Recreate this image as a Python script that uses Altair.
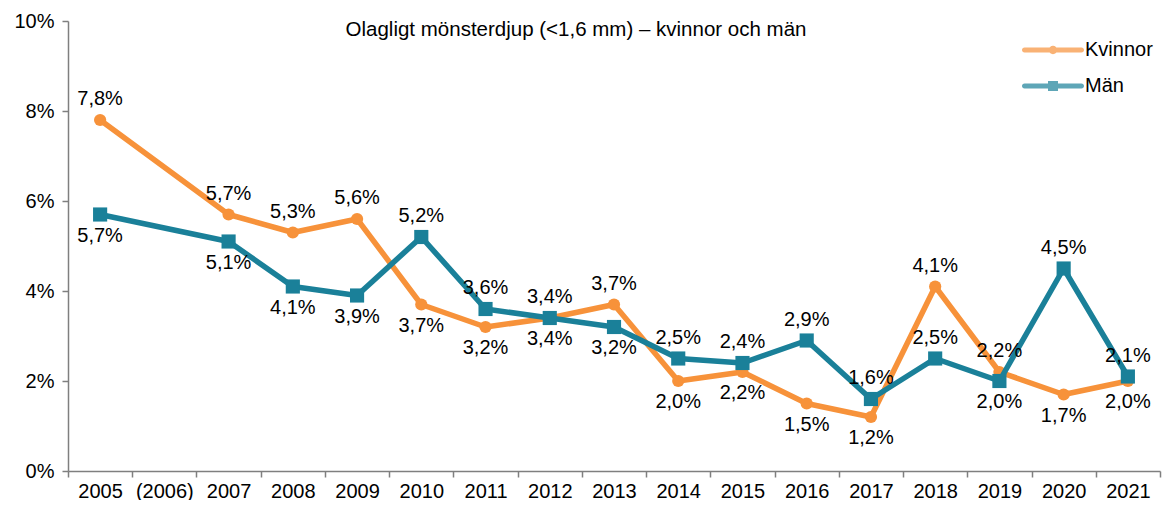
import altair as alt
import pandas as pd

years = ["2005", "(2006)", "2007", "2008", "2009", "2010", "2011", "2012", "2013",
         "2014", "2015", "2016", "2017", "2018", "2019", "2020", "2021"]
kvinnor = [7.8, None, 5.7, 5.3, 5.6, 3.7, 3.2, 3.4, 3.7, 2.0, 2.2, 1.5, 1.2, 4.1, 2.2, 1.7, 2.0]
man = [5.7, None, 5.1, 4.1, 3.9, 5.2, 3.6, 3.4, 3.2, 2.5, 2.4, 2.9, 1.6, 2.5, 2.0, 4.5, 2.1]
series_names = ["Kvinnor", "Män"]
# label placement (style, not data)
kvinnor_pos = ["above", None, "above", "above", "above", "below", "below", "below", "above",
               "below", "below", "below", "below", "above", "above", "below", "below"]
man_pos = ["below", None, "below", "below", "below", "above", "above", "above", "below",
           "above", "above", "above", "above", "above", "below", "above", "above"]

ORANGE = "#F7923A"
TEAL = "#1A8099"
FONT = "Liberation Sans"

rows = []
for name, vals, poss in [("Kvinnor", kvinnor, kvinnor_pos), ("Män", man, man_pos)]:
    for y, v, p in zip(years, vals, poss):
        if v is not None:
            rows.append({"year": y, "value": v, "series": name, "pos": p})
df = pd.DataFrame(rows)

base = alt.Chart(df).transform_calculate(
    label="replace(format(datum.value, '.1f'), '.', ',') + '%'"
)

x = alt.X("year:N", sort=years,
          scale=alt.Scale(type="band", domain=years, paddingInner=0, paddingOuter=0),
          axis=alt.Axis(title=None, tickBand="extent", labelAngle=0, labelFontSize=20,
                        labelFont=FONT, labelColor="black", domainColor="#7f7f7f",
                        tickColor="#7f7f7f", domainWidth=1.5, tickWidth=1.5, tickSize=6,
                        labelPadding=4, grid=False))
y = alt.Y("value:Q",
          scale=alt.Scale(domain=[0, 10], nice=False, zero=True),
          axis=alt.Axis(title=None, values=[0, 2, 4, 6, 8, 10], labelExpr="datum.value + '%'",
                        labelFontSize=20, labelFont=FONT, labelColor="black",
                        domainColor="#7f7f7f", tickColor="#7f7f7f", domainWidth=1.5,
                        tickWidth=1.5, tickSize=6, labelPadding=8, grid=False))

def series_layers(name, color, shape, size):
    sub = base.transform_filter(alt.datum.series == name)
    line = sub.mark_line(color=color, strokeWidth=5.5, strokeJoin="round", strokeCap="round").encode(x=x, y=y)
    pts = sub.mark_point(filled=True, color=color, shape=shape, size=size, opacity=1).encode(x=x, y=y)
    return [line, pts]

layers = []
layers += series_layers("Kvinnor", ORANGE, "circle", 150)
layers += series_layers("Män", TEAL, "square", 200)

txt_above = base.transform_filter(alt.datum.pos == "above").mark_text(
    fontSize=20, font=FONT, color="black", baseline="middle", dy=-21
).encode(x=x, y=y, text="label:N")
txt_below = base.transform_filter(alt.datum.pos == "below").mark_text(
    fontSize=20, font=FONT, color="black", baseline="middle", dy=21
).encode(x=x, y=y, text="label:N")
layers += [txt_above, txt_below]

# legend-only layer (no marks drawn)
path_k = ("M-2.85,-0.25 L2.85,-0.25 A0.25,0.25 0 0 1 2.85,0.25 L-2.85,0.25 "
          "A0.25,0.25 0 0 1 -2.85,-0.25 Z M0.42,0 A0.42,0.42 0 1 1 -0.42,0 A0.42,0.42 0 1 1 0.42,0 Z")
path_m = ("M-2.85,-0.25 L2.85,-0.25 A0.25,0.25 0 0 1 2.85,0.25 L-2.85,0.25 "
          "A0.25,0.25 0 0 1 -2.85,-0.25 Z M-0.5,-0.5 L0.5,-0.5 L0.5,0.5 L-0.5,0.5 Z")
leg = dict(title=None, orient="none", legendX=975, legendY=19, labelFontSize=20,
           labelFont=FONT, labelColor="black", symbolSize=400, labelOffset=22,
           rowPadding=16, padding=0, symbolStrokeWidth=0)
legend_layer = base.transform_filter("false").mark_point(filled=True).encode(
    x=x, y=y,
    color=alt.Color("series:N", scale=alt.Scale(domain=series_names, range=[ORANGE, TEAL]),
                    legend=alt.Legend(**leg)),
    shape=alt.Shape("series:N", scale=alt.Scale(domain=series_names, range=[path_k, path_m]),
                    legend=alt.Legend(**leg)),
)
layers.append(legend_layer)

chart = alt.layer(*layers).properties(
    width=1092, height=450,
    title=alt.TitleParams("Olagligt mönsterdjup (<1,6 mm) – kvinnor och män",
                          fontSize=20.5, font=FONT, fontWeight="normal", color="black",
                          anchor="middle", frame="group", dx=-38, offset=-29),
    autosize=alt.AutoSizeParams(type="none"),
    padding={"left": 60, "top": 13, "right": 6, "bottom": 29},
).configure_view(stroke=None)

chart.save("out.html", embed_options={"renderer": "svg", "actions": False})
